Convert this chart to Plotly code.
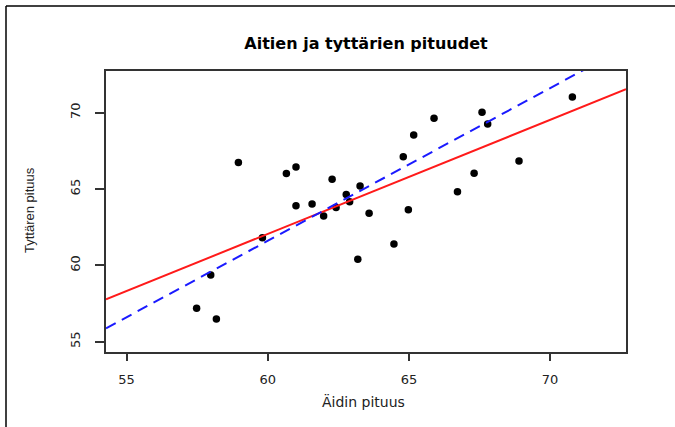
import plotly.graph_objects as go

# Data
aiti = [58.96, 60.66, 61.00, 62.28, 63.27, 62.78, 62.90, 62.42, 61.00, 61.57,
        61.98, 63.59, 59.81, 57.98, 57.48, 58.18, 63.19, 64.47, 64.98, 64.80,
        65.17, 65.89, 67.59, 67.79, 67.31, 66.72, 68.90, 70.79]
tytar = [66.74, 66.02, 66.44, 65.64, 65.20, 64.64, 64.17, 63.79, 63.91, 64.02,
         63.24, 63.41, 61.81, 59.37, 57.19, 56.49, 60.41, 61.40, 63.65, 67.12,
         68.54, 69.63, 70.03, 69.26, 66.03, 64.83, 66.84, 71.03]

red_intercept, red_slope = 17.27, 0.7465
blue_intercept, blue_slope = 1.61, 1.0

x_range = [54.27, 72.69]
y_range = [54.33, 72.73]
tick_vals = [55, 60, 65, 70]

fig = go.Figure()
fig.add_trace(go.Scatter(x=aiti, y=tytar, mode="markers",
                         marker=dict(color="black", size=7.5, symbol="circle"),
                         showlegend=False))
fig.add_trace(go.Scatter(x=x_range, y=[red_intercept + red_slope * v for v in x_range],
                         mode="lines", line=dict(color="#ff1a1a", width=2),
                         showlegend=False))
fig.add_trace(go.Scatter(x=x_range, y=[blue_intercept + blue_slope * v for v in x_range],
                         mode="lines", line=dict(color="#1a1aff", width=2, dash="11px,7px"),
                         showlegend=False))

L, R, T, B = 106, 49, 71, 75
W, H = 675, 427
pw, ph = W - L - R, H - T - B

axis_common = dict(showgrid=False, zeroline=False, showline=True, mirror=True,
                   linecolor="#333333", linewidth=1.5, ticks="outside",
                   tickcolor="#333333", tickwidth=1.5,
                   tickfont=dict(family="DejaVu Sans", size=13, color="#222222"))

fig.update_xaxes(range=x_range, tickvals=tick_vals, ticklen=7,
                 ticklabelstandoff=8, **axis_common)
fig.update_yaxes(range=y_range, tickvals=tick_vals, ticklen=9, tickangle=-90,
                 ticklabelstandoff=10, **axis_common)

fig.update_layout(
    width=W, height=H,
    margin=dict(l=L, r=R, t=T, b=B),
    paper_bgcolor="white", plot_bgcolor="white",
    title=dict(text="<b>Aitien ja tyttärien pituudet</b>",
               font=dict(family="DejaVu Sans", size=16, color="black"),
               x=(366) / W, xanchor="center", xref="container",
               y=1 - 43 / H, yanchor="middle", yref="container"),
    annotations=[
        dict(text="Äidin pituus", xref="paper", yref="paper",
             x=(363.5 - L) / pw, y=(H - B - 401) / ph,
             xanchor="center", yanchor="middle", showarrow=False,
             font=dict(family="DejaVu Sans", size=14, color="#222222")),
        dict(text="Tyttären pituus", xref="paper", yref="paper",
             x=(29 - L) / pw, y=(H - B - 210) / ph, textangle=-90,
             xanchor="center", yanchor="middle", showarrow=False,
             font=dict(family="Liberation Sans", size=13, color="#222222")),
    ],
    shapes=[
        dict(type="line", xref="paper", yref="paper",
             x0=(6 - L) / pw, x1=(W - L) / pw,
             y0=(H - B - 6) / ph, y1=(H - B - 6) / ph,
             line=dict(color="black", width=1.5)),
        dict(type="line", xref="paper", yref="paper",
             x0=(6 - L) / pw, x1=(6 - L) / pw,
             y0=(H - B - 6) / ph, y1=(H - B - H) / ph,
             line=dict(color="black", width=1.5)),
    ],
)

fig.write_html("out.html", config={"displayModeBar": False},
               post_script="document.body.style.margin='0';document.body.style.padding='0';")
